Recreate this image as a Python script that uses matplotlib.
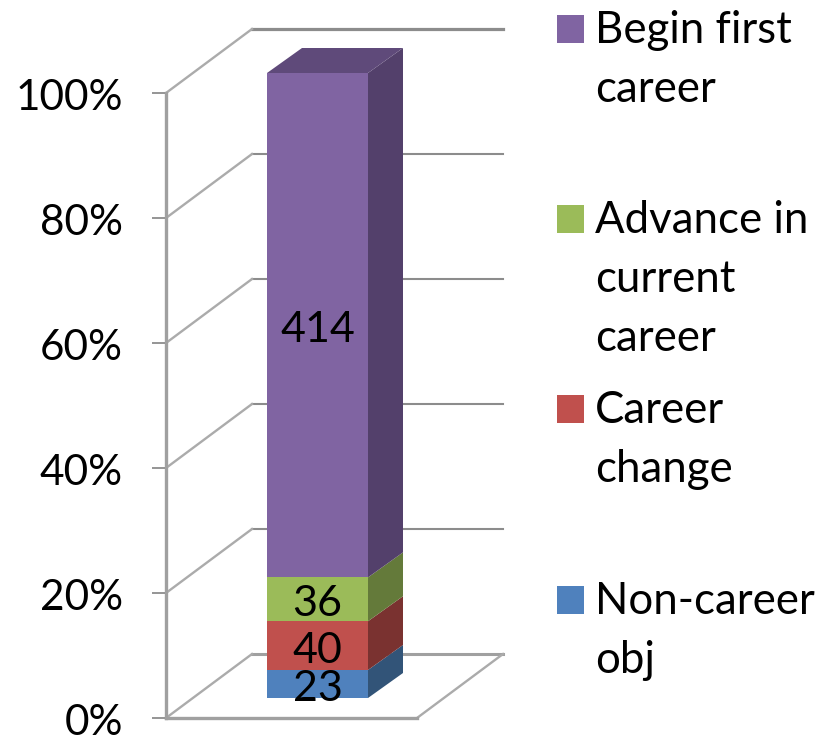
import matplotlib
matplotlib.use('Agg')
import matplotlib.pyplot as plt
from matplotlib.patches import Polygon, Rectangle
from matplotlib.transforms import ScaledTranslation

# data
categories = ['Non-career\nobj', 'Career\nchange', 'Advance in\ncurrent\ncareer', 'Begin first\ncareer']
counts = [23, 40, 36, 414]
y_ticks = [0, 20, 40, 60, 80, 100]

front_colors = ['#4F81BD', '#C0504D', '#9BBB59', '#8064A2']
side_colors = ['#325478', '#7A3230', '#647A3A', '#53406B']
top_color = '#5F4A7A'
grid_color = '#8C8C8C'
diag_color = '#ABABAB'

plt.rcParams['font.family'] = ['Lato', 'DejaVu Sans']

W, H = 836, 737
PX_PER_PCT = 6.25
Y0_PX = 718  # pixel row of 0%
LINE_PX = 59  # legend line height


def px_y(p):
    # pixel row -> percent axis value
    return (Y0_PX - p) / PX_PER_PCT


fig = plt.figure(figsize=(W / 100, H / 100), dpi=100)
ax = fig.add_axes([0, 0, 1, 1])
ax.set_xlim(0, W)
ax.set_ylim(px_y(H), px_y(0))
ax.patch.set_alpha(0)

# axis, kept as the real one
for s in ['top', 'right']:
    ax.spines[s].set_visible(False)
ax.spines['left'].set_position(('data', 166))
ax.spines['left'].set_bounds(0, 100)
ax.spines['bottom'].set_position(('data', 0))
ax.spines['bottom'].set_bounds(166, 417)
for s in ['left', 'bottom']:
    ax.spines[s].set_color('#A0A0A0')
    ax.spines[s].set_linewidth(2.4)
ax.set_xticks([])
ax.set_yticks(y_ticks)
ax.set_yticklabels([f'{t}%' for t in y_ticks], fontsize=30.5)
ax.tick_params(axis='y', length=10, width=1.3, color=grid_color, pad=21)
shift = ScaledTranslation(0, -1.5 / 100, fig.dpi_scale_trans)
for lab in ax.get_yticklabels():
    lab.set_transform(lab.get_transform() + shift)

# walls and floor
dep_x, dep_y = 86, 64 / PX_PER_PCT
for t in y_ticks:
    lw = 2.3 if t == 100 else 1.5
    if t == 0:
        ax.plot([166 + dep_x, 417 + dep_x], [dep_y, dep_y], color='#A0A0A0', lw=2.2, zorder=1)
        ax.plot([417, 417 + dep_x], [0, dep_y], color=diag_color, lw=1.7, zorder=1)
    else:
        ax.plot([166 + dep_x, 417 + dep_x], [t + dep_y, t + dep_y], color=grid_color, lw=lw, zorder=1)
    ax.plot([166, 166 + dep_x], [t, t + dep_y], color=diag_color, lw=1.7, zorder=1)

# stacked bar
bar_l, bar_r = 267, 368
bar_dx, bar_dy = 35, 25 / PX_PER_PCT
bar_base = px_y(698)
total = sum(counts)
bottom = 0
for cnt, fc, sc in zip(counts, front_colors, side_colors):
    y0 = bar_base + 100 * bottom / total
    y1 = bar_base + 100 * (bottom + cnt) / total
    ax.add_patch(Rectangle((bar_l, y0), bar_r - bar_l, y1 - y0, facecolor=fc, edgecolor='none', zorder=3))
    ax.add_patch(Polygon([(bar_r, y0), (bar_r + bar_dx, y0 + bar_dy),
                          (bar_r + bar_dx, y1 + bar_dy), (bar_r, y1)],
                         closed=True, facecolor=sc, edgecolor='none', zorder=3))
    ax.text((bar_l + bar_r) / 2, (y0 + y1) / 2 - 0.8, str(cnt), ha='center', va='center',
            fontsize=31, color='black', zorder=4)
    bottom += cnt

# top face
y_top = bar_base + 100
ax.add_patch(Polygon([(bar_l, y_top), (bar_r, y_top), (bar_r + bar_dx, y_top + bar_dy),
                      (bar_l + bar_dx, y_top + bar_dy)],
                     closed=True, facecolor=top_color, edgecolor='none', zorder=3))

# legend by hand, the rows are unevenly spaced
legend_rows = [29, 219, 409, 600]
for label, col, row in zip(categories[::-1], front_colors[::-1], legend_rows):
    ax.add_patch(Rectangle((557, px_y(row + 14)), 27, 28 / PX_PER_PCT, facecolor=col, edgecolor='none'))
    # baseline alignment goes by the last line of the label
    last_line = row + 14 + LINE_PX * label.count('\n')
    ax.text(595, px_y(last_line), label, ha='left', va='baseline', fontsize=31.5, color='black', linespacing=1.55)

fig.savefig('out.png', dpi=100)
